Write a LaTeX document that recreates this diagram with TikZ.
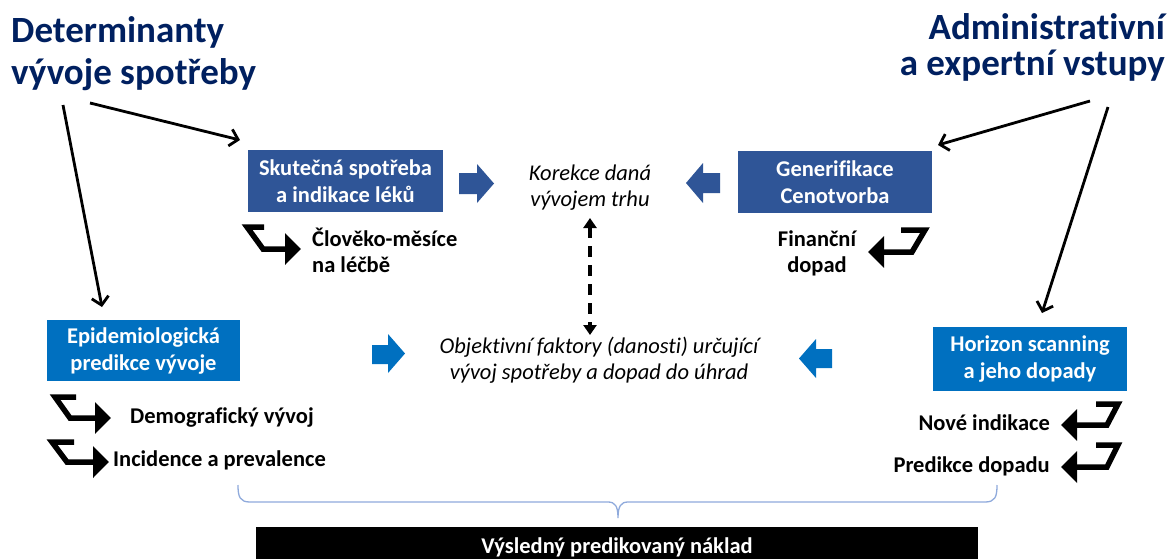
\documentclass[tikz,border=0pt]{standalone}
\usepackage{fontspec}
\setmainfont{Carlito}[Ligatures=NoCommon]
\usetikzlibrary{arrows.meta,calc}
\definecolor{navy}{HTML}{002060}
\definecolor{boxdark}{HTML}{2F5597}
\definecolor{boxlight}{HTML}{0070C0}
\definecolor{bracec}{HTML}{8FAADC}
\begin{document}
\begin{tikzpicture}[x=1pt,y=-1pt,
  title/.style={text=navy,font=\fontsize{37}{42}\selectfont\bfseries,inner sep=0pt},
  boxd/.style={fill=boxdark,text=white,font=\fontsize{22.5}{27}\selectfont\bfseries,align=center,inner sep=0pt},
  boxl/.style={fill=boxlight,text=white,font=\fontsize{22.5}{27}\selectfont\bfseries,align=center,inner sep=0pt},
  lbl/.style={font=\fontsize{22.5}{26}\selectfont\bfseries,inner sep=0pt},
  itxt/.style={font=\fontsize{22.5}{26}\selectfont\itshape,align=center,inner sep=0pt},
  tarrow/.style={line width=2.8pt,-{Straight Barb[length=8pt,width=17pt]}},
  bent/.style={line width=5.5pt,miter limit=4,-{Triangle[length=16pt,width=31pt]}},
  fatd/.style={fill=boxdark},
  fatl/.style={fill=boxlight}]
\useasboundingbox (0,0) rectangle (1169,558);
\fill[white] (0,0) rectangle (1169,558);
% titles
\node[title,anchor=north west,align=left] (det) at (11,16) {Determinanty\\vývoje spotřeby};
\node[title,anchor=north east,align=right,font=\fontsize{37}{36}\selectfont\bfseries] (adm) at (1165,13) {Administrativní\\a expertní vstupy};
% boxes
\node[boxd,minimum width=195pt,minimum height=62pt] (sk) at (345.5,181) {Skutečná spotřeba\\a indikace léků};
\node[boxd,minimum width=194pt,minimum height=62pt] (gen) at (835,182) {Generifikace\\Cenotvorba};
\node[boxl,minimum width=193pt,minimum height=61pt] (epi) at (143.5,350.5) {Epidemiologická\\predikce vývoje};
\node[boxl,minimum width=194pt,minimum height=64pt] (hor) at (1030,359) {Horizon scanning\\a jeho dopady};
% central texts
\node[itxt] (kor) at (590,188) {Korekce daná\\vývojem trhu};
\node[itxt] (obj) at (599,360) {Objektivní faktory (danosti) určující\\vývoj spotřeby a dopad do úhrad};
% labels
\node[lbl,align=left,anchor=west] (cm) at (312,250) {Člověko-měsíce\\na léčbě};
\node[lbl,align=center] (fin) at (817,253) {Finanční\\dopad};
\node[lbl,anchor=west] (dem) at (130,418) {Demografický vývoj};
\node[lbl,anchor=west] (inc) at (113,460) {Incidence a prevalence};
\node[lbl,anchor=east] (nov) at (1050,423) {Nové indikace};
\node[lbl,anchor=east] (pred) at (1050,466) {Predikce dopadu};
% result bar
\node[fill=black,minimum width=722pt,minimum height=40pt,inner sep=0pt] (res) at (617,547) {};
\node[text=white,font=\fontsize{22.5}{26}\selectfont\bfseries,anchor=base,inner sep=0pt] (restxt) at (617,553) {Výsledný predikovaný náklad};
% title arrows
\coordinate (a1s) at (63,105);  \coordinate (a1e) at (102,307);
\coordinate (a2s) at (90,103);  \coordinate (a2e) at (240,140);
\coordinate (a3s) at (1090,101); \coordinate (a3e) at (938,145);
\coordinate (a4s) at (1108,107); \coordinate (a4e) at (1042,313);
\draw[tarrow] (a1s) -- (a1e);
\draw[tarrow] (a2s) -- (a2e);
\draw[tarrow] (a3s) -- (a3e);
\draw[tarrow] (a4s) -- (a4e);
% fat block arrows
\fill[fatd] (459,173) -- (477,173) -- (477,164) -- (494,183.5) -- (477,203) -- (477,194) -- (459,194) -- cycle;
\fill[fatd] (720,173) -- (703,173) -- (703,163) -- (686,183) -- (703,203) -- (703,193) -- (720,193) -- cycle;
\fill[fatl] (372,345) -- (388,345) -- (388,334) -- (405,353.5) -- (388,373) -- (388,364) -- (372,364) -- cycle;
\fill[fatl] (832,349) -- (816,349) -- (816,339) -- (799,358.5) -- (816,378) -- (816,368) -- (832,368) -- cycle;
% dashed double arrow
\coordinate (dtop) at (590,218);
\coordinate (dbot) at (590,335);
\draw[line width=3.3pt,dash pattern=on 11pt off 8pt,{Triangle[length=10pt,width=13pt]}-{Triangle[length=10pt,width=13pt]}] (dtop) -- (dbot);
% bent arrows
\draw[bent] (264,227) -- (247,227) -- (263,249) -- (301,249);
\draw[bent] (76,397) -- (55,397) -- (70,418) -- (111,418);
\draw[bent] (74,442) -- (52,442) -- (67,462) -- (109,462);
\draw[bent] (901,230) -- (925,230) -- (912,252) -- (868,252);
\draw[bent] (1096,404) -- (1118,404) -- (1107,425) -- (1061,425);
\draw[bent] (1096,445) -- (1118,445) -- (1107,467) -- (1061,467);
% brace
\draw[bracec,line width=1.3pt] (238,485) .. controls (238,497) and (240,502) .. (250,502) -- (608,502) .. controls (615,502) and (618,506) .. (618,518) .. controls (618,506) and (621,502) .. (628,502) -- (985,502) .. controls (995,502) and (997,497) .. (997,485);
\end{tikzpicture}
\end{document}
